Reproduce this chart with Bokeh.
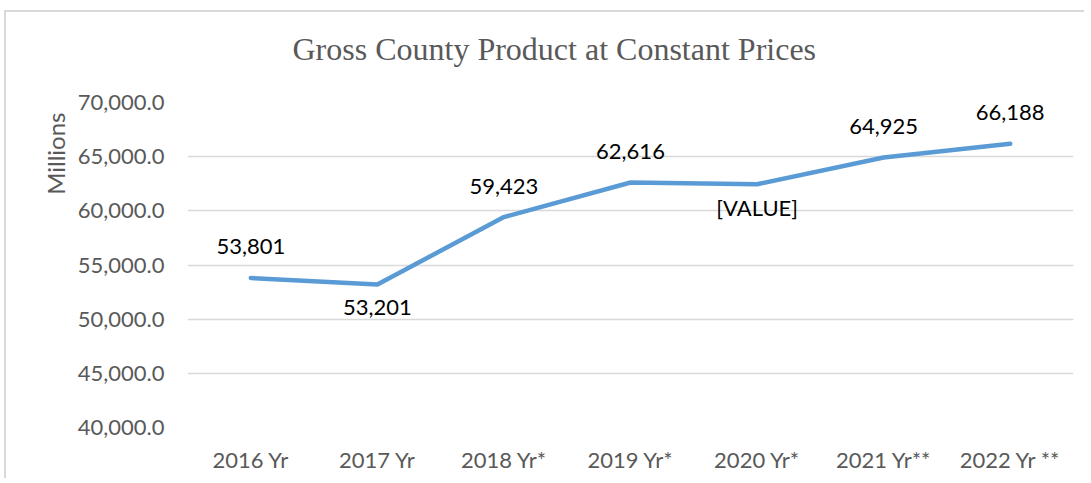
from bokeh.plotting import figure
from bokeh.models import (ColumnDataSource, LabelSet, Range1d, FactorRange, Title,
                          LinearAxis, FixedTicker)
from bokeh.core.properties import value
from bokeh.embed import file_html
from bokeh.resources import INLINE

# ---- data ----
categories = ["2016 Yr", "2017 Yr", "2018 Yr*", "2019 Yr*", "2020 Yr*", "2021 Yr**", "2022 Yr **"]
gcp_values = [53801, 53201, 59423, 62616, 62450, 64925, 66188]
data_labels = ["53,801", "53,201", "59,423", "62,616", "[VALUE]", "64,925", "66,188"]
label_side = ["above", "below", "above", "above", "below", "above", "above"]
y_ticks = [40000, 45000, 50000, 55000, 60000, 65000, 70000]
chart_title = "Gross County Product at Constant Prices"
y_title = "Millions"

TICK_COLOR = "#595959"
GRID_COLOR = "#D9D9D9"
LINE_COLOR = "#5B9BD5"
FONT = "Lato"

offsets = [31 if s == "above" else -23 for s in label_side]
src = ColumnDataSource(dict(x=categories, y=gcp_values, text=data_labels, yo=offsets))

p = figure(
    width=1080, height=468,
    x_range=FactorRange(*categories, range_padding=0),
    y_range=Range1d(40000, 70000),
    output_backend="svg", toolbar_location=None,
    min_border_left=181, min_border_right=13, min_border_top=90, min_border_bottom=53,
)
p.styles = {"border-top": "2px solid #D9D9D9", "border-left": "2px solid #D9D9D9",
            "margin-left": "4px", "margin-top": "10px"}
p.outline_line_color = None
p.background_fill_color = "white"
p.border_fill_color = "white"

p.line("x", "y", source=src, line_color=LINE_COLOR, line_width=4.5,
       line_cap="round", line_join="round")

labels = LabelSet(x="x", y="y", text="text", source=src, y_offset="yo",
                  text_align="center", text_baseline="middle",
                  text_font=value(FONT), text_font_size=value("22px"), text_color="#000000")
p.add_layout(labels)


def clean_axis(ax):
    ax.axis_line_color = None
    ax.major_tick_line_color = None
    ax.minor_tick_line_color = None
    ax.major_tick_out = 0
    ax.major_tick_in = 0
    ax.minor_tick_out = 0
    ax.minor_tick_in = 0


for ax in (p.xaxis, p.yaxis):
    clean_axis(ax)
    ax.major_label_text_font = FONT
    ax.major_label_text_font_size = "22px"
    ax.major_label_text_color = TICK_COLOR
p.xaxis.major_label_standoff = 18
p.yaxis.major_label_standoff = 23
p.yaxis.ticker = y_ticks
p.yaxis.major_label_overrides = {v: f"{v:,.1f}" for v in y_ticks}

p.xgrid.grid_line_color = None
p.ygrid.grid_line_color = GRID_COLOR
p.ygrid.grid_line_width = 1.5

# empty spacer above the plot area, so the title sits higher
spacer = LinearAxis(ticker=FixedTicker(ticks=[]), axis_label=" ", axis_label_standoff=27,
                    axis_label_text_font_size="1px", major_label_standoff=0,
                    major_label_text_font_size="0px")
clean_axis(spacer)
p.add_layout(spacer, "above")

# chart title
p.title.text = chart_title
p.title.align = "left"
p.title.offset = 105
p.title.standoff = 10
p.title.vertical_align = "bottom"
p.title.text_font = "Liberation Serif"
p.title.text_font_size = "32px"
p.title.text_font_style = "normal"
p.title.text_color = TICK_COLOR

# value-axis title near the top of the axis
ytitle = Title(text=y_title, align="right", offset=10, standoff=10,
               text_font=FONT, text_font_size="24px", text_font_style="normal",
               text_color=TICK_COLOR)
p.add_layout(ytitle, "left")

open("out.html", "w").write(file_html(p, INLINE))
